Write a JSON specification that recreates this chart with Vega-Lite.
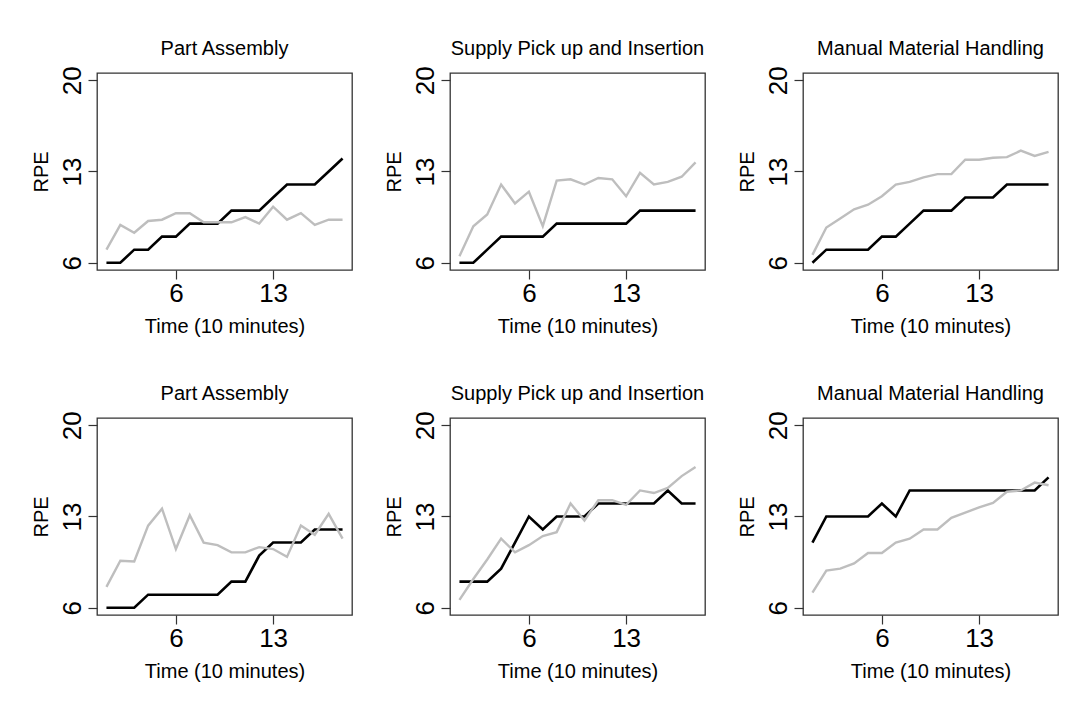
{
  "$schema": "https://vega.github.io/schema/vega-lite/v6.json",
  "background": "white",
  "padding": {"left": 30, "top": 38, "right": 5, "bottom": 5},
  "data": {"values": [
    {"panel": "a|Part Assembly", "t": 1, "black": 6, "gray": 7.0},
    {"panel": "a|Part Assembly", "t": 2, "black": 6, "gray": 8.9},
    {"panel": "a|Part Assembly", "t": 3, "black": 7, "gray": 8.3},
    {"panel": "a|Part Assembly", "t": 4, "black": 7, "gray": 9.2},
    {"panel": "a|Part Assembly", "t": 5, "black": 8, "gray": 9.3},
    {"panel": "a|Part Assembly", "t": 6, "black": 8, "gray": 9.8},
    {"panel": "a|Part Assembly", "t": 7, "black": 9, "gray": 9.8},
    {"panel": "a|Part Assembly", "t": 8, "black": 9, "gray": 9.1},
    {"panel": "a|Part Assembly", "t": 9, "black": 9, "gray": 9.1},
    {"panel": "a|Part Assembly", "t": 10, "black": 10, "gray": 9.1},
    {"panel": "a|Part Assembly", "t": 11, "black": 10, "gray": 9.5},
    {"panel": "a|Part Assembly", "t": 12, "black": 10, "gray": 9.0},
    {"panel": "a|Part Assembly", "t": 13, "black": 11, "gray": 10.3},
    {"panel": "a|Part Assembly", "t": 14, "black": 12, "gray": 9.3},
    {"panel": "a|Part Assembly", "t": 15, "black": 12, "gray": 9.8},
    {"panel": "a|Part Assembly", "t": 16, "black": 12, "gray": 8.9},
    {"panel": "a|Part Assembly", "t": 17, "black": 13, "gray": 9.3},
    {"panel": "a|Part Assembly", "t": 18, "black": 14, "gray": 9.3},
    {"panel": "b|Supply Pick up and Insertion", "t": 1, "black": 6, "gray": 6.5},
    {"panel": "b|Supply Pick up and Insertion", "t": 2, "black": 6, "gray": 8.8},
    {"panel": "b|Supply Pick up and Insertion", "t": 3, "black": 7, "gray": 9.7},
    {"panel": "b|Supply Pick up and Insertion", "t": 4, "black": 8, "gray": 12.0},
    {"panel": "b|Supply Pick up and Insertion", "t": 5, "black": 8, "gray": 10.55},
    {"panel": "b|Supply Pick up and Insertion", "t": 6, "black": 8, "gray": 11.45},
    {"panel": "b|Supply Pick up and Insertion", "t": 7, "black": 8, "gray": 8.8},
    {"panel": "b|Supply Pick up and Insertion", "t": 8, "black": 9, "gray": 12.3},
    {"panel": "b|Supply Pick up and Insertion", "t": 9, "black": 9, "gray": 12.4},
    {"panel": "b|Supply Pick up and Insertion", "t": 10, "black": 9, "gray": 12.0},
    {"panel": "b|Supply Pick up and Insertion", "t": 11, "black": 9, "gray": 12.5},
    {"panel": "b|Supply Pick up and Insertion", "t": 12, "black": 9, "gray": 12.4},
    {"panel": "b|Supply Pick up and Insertion", "t": 13, "black": 9, "gray": 11.1},
    {"panel": "b|Supply Pick up and Insertion", "t": 14, "black": 10, "gray": 12.9},
    {"panel": "b|Supply Pick up and Insertion", "t": 15, "black": 10, "gray": 12.0},
    {"panel": "b|Supply Pick up and Insertion", "t": 16, "black": 10, "gray": 12.2},
    {"panel": "b|Supply Pick up and Insertion", "t": 17, "black": 10, "gray": 12.6},
    {"panel": "b|Supply Pick up and Insertion", "t": 18, "black": 10, "gray": 13.7},
    {"panel": "c|Manual Material Handling", "t": 1, "black": 6, "gray": 6.6},
    {"panel": "c|Manual Material Handling", "t": 2, "black": 7, "gray": 8.7},
    {"panel": "c|Manual Material Handling", "t": 3, "black": 7, "gray": 9.4},
    {"panel": "c|Manual Material Handling", "t": 4, "black": 7, "gray": 10.1},
    {"panel": "c|Manual Material Handling", "t": 5, "black": 7, "gray": 10.45},
    {"panel": "c|Manual Material Handling", "t": 6, "black": 8, "gray": 11.1},
    {"panel": "c|Manual Material Handling", "t": 7, "black": 8, "gray": 12.0},
    {"panel": "c|Manual Material Handling", "t": 8, "black": 9, "gray": 12.2},
    {"panel": "c|Manual Material Handling", "t": 9, "black": 10, "gray": 12.55},
    {"panel": "c|Manual Material Handling", "t": 10, "black": 10, "gray": 12.8},
    {"panel": "c|Manual Material Handling", "t": 11, "black": 10, "gray": 12.8},
    {"panel": "c|Manual Material Handling", "t": 12, "black": 11, "gray": 13.9},
    {"panel": "c|Manual Material Handling", "t": 13, "black": 11, "gray": 13.9},
    {"panel": "c|Manual Material Handling", "t": 14, "black": 11, "gray": 14.05},
    {"panel": "c|Manual Material Handling", "t": 15, "black": 12, "gray": 14.1},
    {"panel": "c|Manual Material Handling", "t": 16, "black": 12, "gray": 14.6},
    {"panel": "c|Manual Material Handling", "t": 17, "black": 12, "gray": 14.2},
    {"panel": "c|Manual Material Handling", "t": 18, "black": 12, "gray": 14.5},
    {"panel": "d|Part Assembly", "t": 1, "black": 6, "gray": 7.6},
    {"panel": "d|Part Assembly", "t": 2, "black": 6, "gray": 9.6},
    {"panel": "d|Part Assembly", "t": 3, "black": 6, "gray": 9.55},
    {"panel": "d|Part Assembly", "t": 4, "black": 7, "gray": 12.3},
    {"panel": "d|Part Assembly", "t": 5, "black": 7, "gray": 13.6},
    {"panel": "d|Part Assembly", "t": 6, "black": 7, "gray": 10.5},
    {"panel": "d|Part Assembly", "t": 7, "black": 7, "gray": 13.1},
    {"panel": "d|Part Assembly", "t": 8, "black": 7, "gray": 11.0},
    {"panel": "d|Part Assembly", "t": 9, "black": 7, "gray": 10.8},
    {"panel": "d|Part Assembly", "t": 10, "black": 8, "gray": 10.25},
    {"panel": "d|Part Assembly", "t": 11, "black": 8, "gray": 10.25},
    {"panel": "d|Part Assembly", "t": 12, "black": 10, "gray": 10.65},
    {"panel": "d|Part Assembly", "t": 13, "black": 11, "gray": 10.5},
    {"panel": "d|Part Assembly", "t": 14, "black": 11, "gray": 9.9},
    {"panel": "d|Part Assembly", "t": 15, "black": 11, "gray": 12.3},
    {"panel": "d|Part Assembly", "t": 16, "black": 12, "gray": 11.6},
    {"panel": "d|Part Assembly", "t": 17, "black": 12, "gray": 13.2},
    {"panel": "d|Part Assembly", "t": 18, "black": 12, "gray": 11.3},
    {"panel": "e|Supply Pick up and Insertion", "t": 1, "black": 8, "gray": 6.6},
    {"panel": "e|Supply Pick up and Insertion", "t": 2, "black": 8, "gray": 8.2},
    {"panel": "e|Supply Pick up and Insertion", "t": 3, "black": 8, "gray": 9.7},
    {"panel": "e|Supply Pick up and Insertion", "t": 4, "black": 9, "gray": 11.3},
    {"panel": "e|Supply Pick up and Insertion", "t": 5, "black": 11, "gray": 10.25},
    {"panel": "e|Supply Pick up and Insertion", "t": 6, "black": 13, "gray": 10.8},
    {"panel": "e|Supply Pick up and Insertion", "t": 7, "black": 12, "gray": 11.5},
    {"panel": "e|Supply Pick up and Insertion", "t": 8, "black": 13, "gray": 11.8},
    {"panel": "e|Supply Pick up and Insertion", "t": 9, "black": 13, "gray": 14.0},
    {"panel": "e|Supply Pick up and Insertion", "t": 10, "black": 13, "gray": 12.7},
    {"panel": "e|Supply Pick up and Insertion", "t": 11, "black": 14, "gray": 14.25},
    {"panel": "e|Supply Pick up and Insertion", "t": 12, "black": 14, "gray": 14.25},
    {"panel": "e|Supply Pick up and Insertion", "t": 13, "black": 14, "gray": 13.9},
    {"panel": "e|Supply Pick up and Insertion", "t": 14, "black": 14, "gray": 15.0},
    {"panel": "e|Supply Pick up and Insertion", "t": 15, "black": 14, "gray": 14.8},
    {"panel": "e|Supply Pick up and Insertion", "t": 16, "black": 15, "gray": 15.2},
    {"panel": "e|Supply Pick up and Insertion", "t": 17, "black": 14, "gray": 16.1},
    {"panel": "e|Supply Pick up and Insertion", "t": 18, "black": 14, "gray": 16.8},
    {"panel": "f|Manual Material Handling", "t": 1, "black": 11, "gray": 7.15},
    {"panel": "f|Manual Material Handling", "t": 2, "black": 13, "gray": 8.85},
    {"panel": "f|Manual Material Handling", "t": 3, "black": 13, "gray": 9.0},
    {"panel": "f|Manual Material Handling", "t": 4, "black": 13, "gray": 9.4},
    {"panel": "f|Manual Material Handling", "t": 5, "black": 13, "gray": 10.2},
    {"panel": "f|Manual Material Handling", "t": 6, "black": 14, "gray": 10.2},
    {"panel": "f|Manual Material Handling", "t": 7, "black": 13, "gray": 11.0},
    {"panel": "f|Manual Material Handling", "t": 8, "black": 15, "gray": 11.3},
    {"panel": "f|Manual Material Handling", "t": 9, "black": 15, "gray": 12.0},
    {"panel": "f|Manual Material Handling", "t": 10, "black": 15, "gray": 12.0},
    {"panel": "f|Manual Material Handling", "t": 11, "black": 15, "gray": 12.9},
    {"panel": "f|Manual Material Handling", "t": 12, "black": 15, "gray": 13.3},
    {"panel": "f|Manual Material Handling", "t": 13, "black": 15, "gray": 13.7},
    {"panel": "f|Manual Material Handling", "t": 14, "black": 15, "gray": 14.05},
    {"panel": "f|Manual Material Handling", "t": 15, "black": 15, "gray": 14.9},
    {"panel": "f|Manual Material Handling", "t": 16, "black": 15, "gray": 15.0},
    {"panel": "f|Manual Material Handling", "t": 17, "black": 15, "gray": 15.6},
    {"panel": "f|Manual Material Handling", "t": 18, "black": 16, "gray": 15.4}
  ]},
  "facet": {
    "field": "panel",
    "type": "nominal",
    "header": {
      "title": null,
      "labelExpr": "split(datum.value, '|')[1]",
      "labelFont": "Liberation Sans",
      "labelFontSize": 20,
      "labelColor": "black",
      "labelPadding": 7
    }
  },
  "columns": 3,
  "spacing": {"column": 30, "row": 46},
  "resolve": {"axis": {"x": "independent", "y": "independent"}},
  "spec": {
    "width": 255,
    "height": 197,
    "layer": [
      {
        "mark": {"type": "line", "color": "black", "strokeWidth": 2.6},
        "encoding": {
          "x": {"field": "t", "type": "quantitative", "scale": {"domain": [0.32, 18.68], "nice": false, "zero": false}, "axis": {"title": "Time (10 minutes)", "values": [6, 13]}},
          "y": {"field": "black", "type": "quantitative", "scale": {"domain": [5.44, 20.56], "nice": false, "zero": false}, "axis": {"title": "RPE", "values": [6, 13, 20], "labelAngle": -90, "labelAlign": "center", "labelBaseline": "alphabetic", "labelPadding": 8}}
        }
      },
      {
        "mark": {"type": "line", "color": "#bebebe", "strokeWidth": 2.4},
        "encoding": {
          "x": {"field": "t", "type": "quantitative", "axis": {"title": "Time (10 minutes)", "values": [6, 13]}},
          "y": {"field": "gray", "type": "quantitative", "axis": {"title": "RPE", "values": [6, 13, 20], "labelAngle": -90, "labelAlign": "center", "labelBaseline": "alphabetic", "labelPadding": 8}}
        }
      }
    ]
  },
  "config": {
    "view": {"stroke": "#333333", "strokeWidth": 1.3},
    "axis": {
      "domain": false,
      "grid": false,
      "ticks": true,
      "tickSize": 9,
      "tickColor": "#333333",
      "tickWidth": 1.2,
      "labelFont": "Liberation Sans",
      "labelFontSize": 26,
      "labelColor": "black",
      "labelFlush": false,
      "labelOverlap": false,
      "titleFont": "Liberation Sans",
      "titleFontSize": 20,
      "titleFontWeight": "normal",
      "titleColor": "black"
    },
    "axisX": {"labelPadding": 1, "titlePadding": 10},
    "axisY": {"titlePadding": 8}
  }
}
